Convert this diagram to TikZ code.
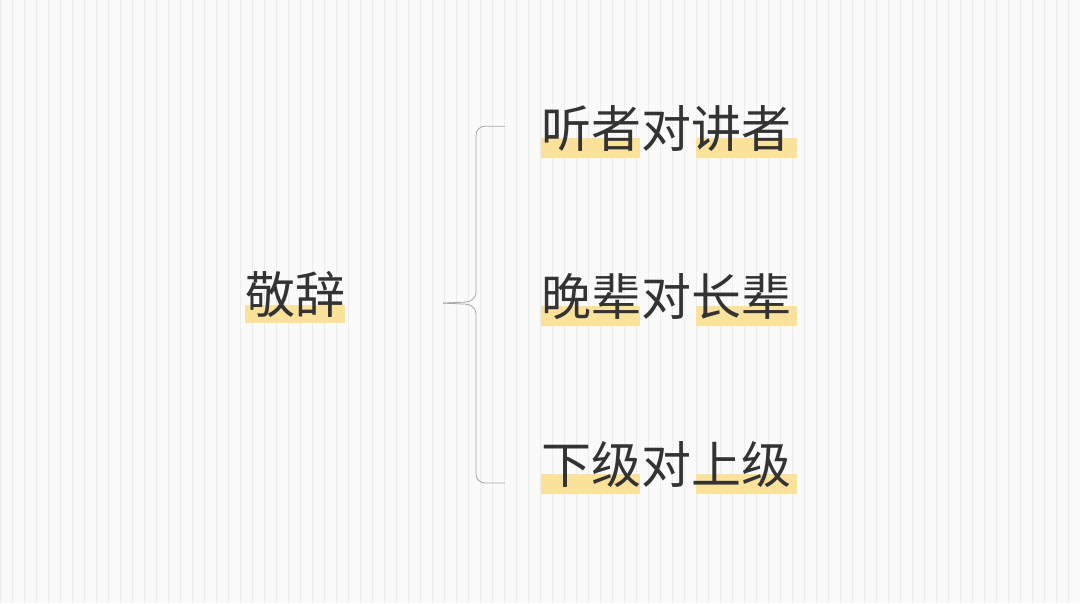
\documentclass[tikz,border=0pt]{standalone}
\usepackage{fontspec}
\newfontfamily\cjk{Noto Sans CJK SC}
\definecolor{hl}{HTML}{FBE29B}
\definecolor{txt}{HTML}{333333}
\definecolor{grid}{HTML}{ECECEC}
\definecolor{bg}{HTML}{FAFAFA}
\begin{document}
\begin{tikzpicture}[x=1pt,y=-1pt,
  lbl/.style={font=\cjk\fontsize{50}{50}\selectfont, text=txt, inner sep=0pt, anchor=west},
  hlbox/.style={fill=hl, draw=none}]
\fill[bg] (0,0) rectangle (1080,603);
\draw[grid, line width=0.4pt, step=12] (0,0) grid (1080,603);
% highlights
\fill[hlbox] (541,138) rectangle (640,158);
\fill[hlbox] (696,138) rectangle (797,158);
\fill[hlbox] (541,306) rectangle (640,326);
\fill[hlbox] (696,306) rectangle (797,326);
\fill[hlbox] (541,474) rectangle (640,494);
\fill[hlbox] (696,474) rectangle (797,494);
\fill[hlbox] (245,305) rectangle (345,323);
% labels
\node[lbl] (a) at (541,128) {听者对讲者};
\node[lbl] (b) at (541,296) {晚辈对长辈};
\node[lbl] (c) at (541,464) {下级对上级};
\node[lbl] (r) at (245,294) {敬辞};
% brace
\coordinate (t) at (505,126);
\coordinate (m) at (443,303);
\coordinate (e) at (505,483);
\draw[gray!70, line width=0.8pt] (t) -- (485,126) to[out=180,in=90] (476,135) -- (476,292)
  to[out=-90,in=0] (465,302) -- (m);
\draw[gray!70, line width=0.8pt] (m) -- (465,304) to[out=0,in=90] (476,314) -- (476,474)
  to[out=-90,in=180] (485,483) -- (e);
\end{tikzpicture}
\end{document}
